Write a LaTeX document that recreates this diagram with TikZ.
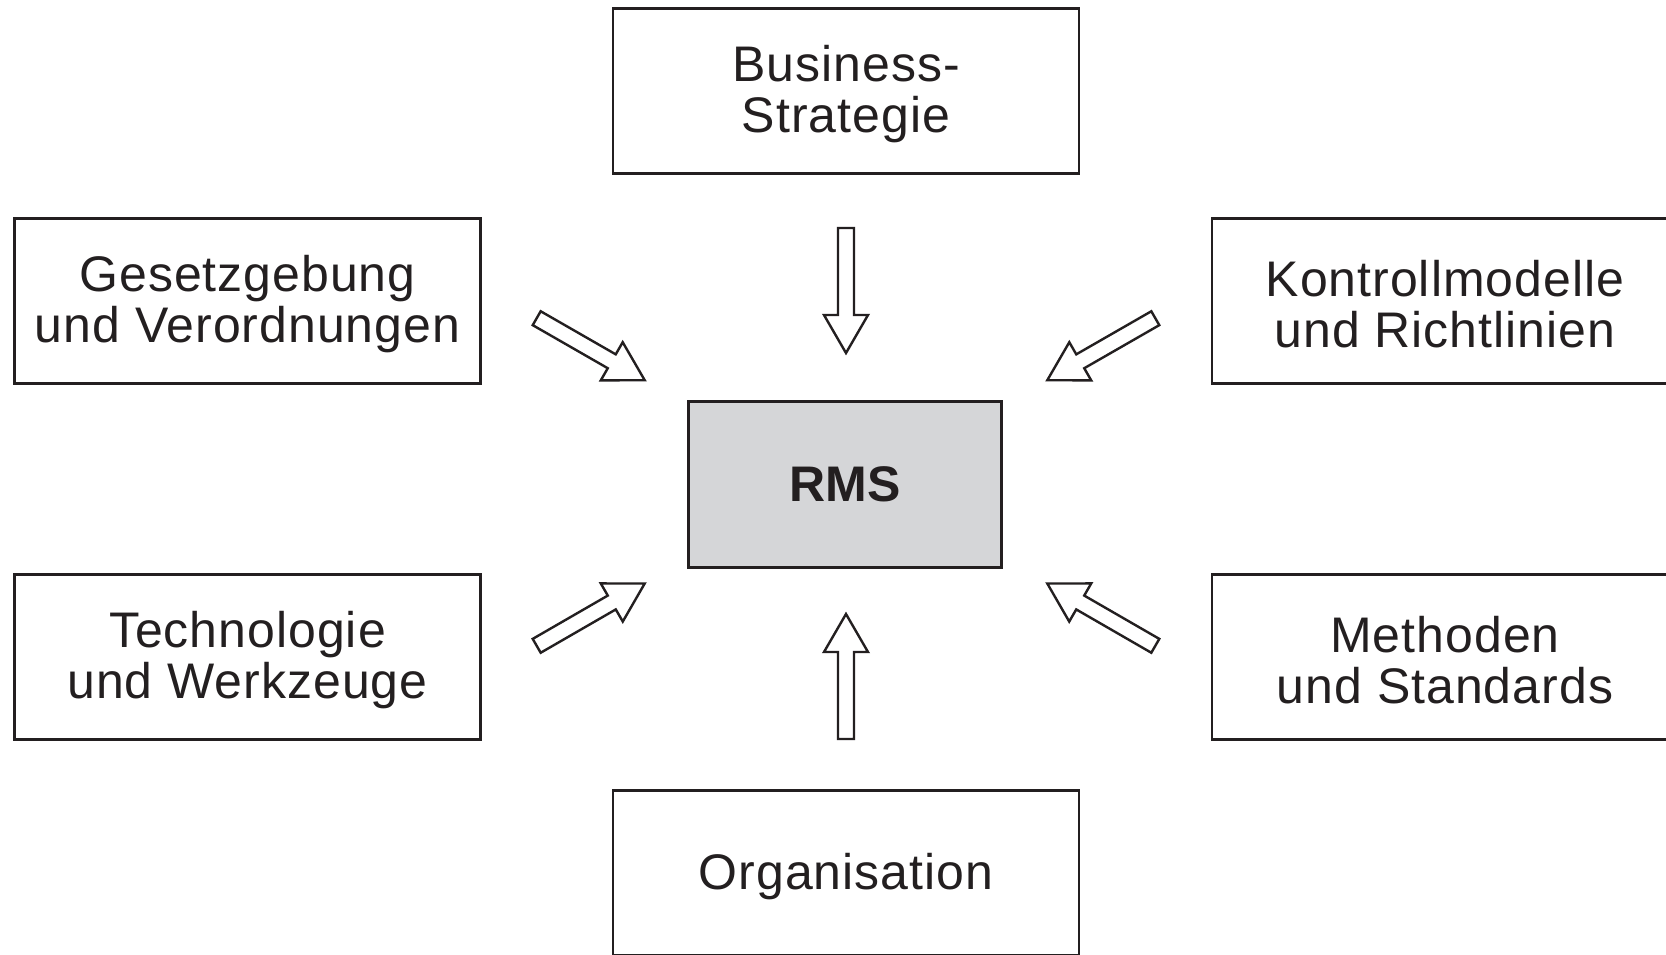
\documentclass[tikz,border=0pt]{standalone}
\usepackage{fontspec}
\setmainfont{Liberation Sans}
\newfontfamily\boxfont{Liberation Sans}[LetterSpace=2]
\usetikzlibrary{calc}
\definecolor{ink}{HTML}{231F20}
\definecolor{rmsgrey}{HTML}{D5D6D8}
% block arrow from tail #1 to tip #2
\newcommand\bigarrow[2]{%
  \coordinate (bahead) at ($(#2)!19pt!(#1)$);
  \draw[arrowline] ($(#1)!4pt!90:(#2)$) -- ($(bahead)!4pt!90:(#2)$)
    -- ($(bahead)!11pt!90:(#2)$) -- (#2) -- ($(bahead)!11pt!-90:(#2)$)
    -- ($(bahead)!4pt!-90:(#2)$) -- ($(#1)!4pt!-90:(#2)$) -- cycle;
}
\begin{document}
\begin{tikzpicture}[x=0.5pt,y=-0.5pt,
  box/.style={draw=ink, line width=1.3pt, fill=white, minimum width=233pt,
    minimum height=82.5pt, inner sep=0pt},
  boxtext/.style={align=center, inner sep=0pt, text=ink, yshift=-1.6pt,
    font=\boxfont\fontsize{25pt}{25.4pt}\selectfont},
  rmsbox/.style={box, fill=rmsgrey, line width=1.4pt, minimum width=156.5pt,
    minimum height=83pt, text=ink, font=\fontsize{25pt}{25pt}\selectfont\bfseries},
  arrowline/.style={draw=ink, line width=1.2pt, fill=white, line join=miter}]
\useasboundingbox (0,0) rectangle (1666,954);
\clip (0,0) rectangle (1666,954);
\fill[white] (0,0) rectangle (1666,954);

\node[box, label={[boxtext]center:{Business-\\Strategie}}] (biz) at (846,91) {};
\node[box, label={[boxtext]center:{Gesetzgebung\\und Verordnungen}}] (ges) at (247.5,301) {};
\node[box, label={[boxtext]center:{Kontrollmodelle\\und Richtlinien}}] (kon) at (1445,301) {};
\node[box, label={[boxtext]center:{Technologie\\und Werkzeuge}}] (tec) at (247.5,657) {};
\node[box, label={[boxtext]center:{Methoden\\und Standards}}] (met) at (1445,657) {};
\node[box, label={[boxtext]center:{Organisation}}] (org) at (846,873) {};
\node[rmsbox] (rms) at (845.3,484.2) {RMS};

\coordinate (tT) at (846,228);   \coordinate (tP) at (846,353);
\coordinate (bT) at (846,739);   \coordinate (bP) at (846,614);
\coordinate (ulT) at (536.7,318.2);  \coordinate (ulP) at (644.7,380.2);
\coordinate (llT) at (536.7,645.8);  \coordinate (llP) at (644.7,583.5);
\coordinate (urT) at (1155.3,318.2); \coordinate (urP) at (1047.3,380.2);
\coordinate (lrT) at (1155.3,645.8); \coordinate (lrP) at (1047.3,583.5);

\bigarrow{tT}{tP}
\bigarrow{bT}{bP}
\bigarrow{ulT}{ulP}
\bigarrow{llT}{llP}
\bigarrow{urT}{urP}
\bigarrow{lrT}{lrP}
\end{tikzpicture}
\end{document}
